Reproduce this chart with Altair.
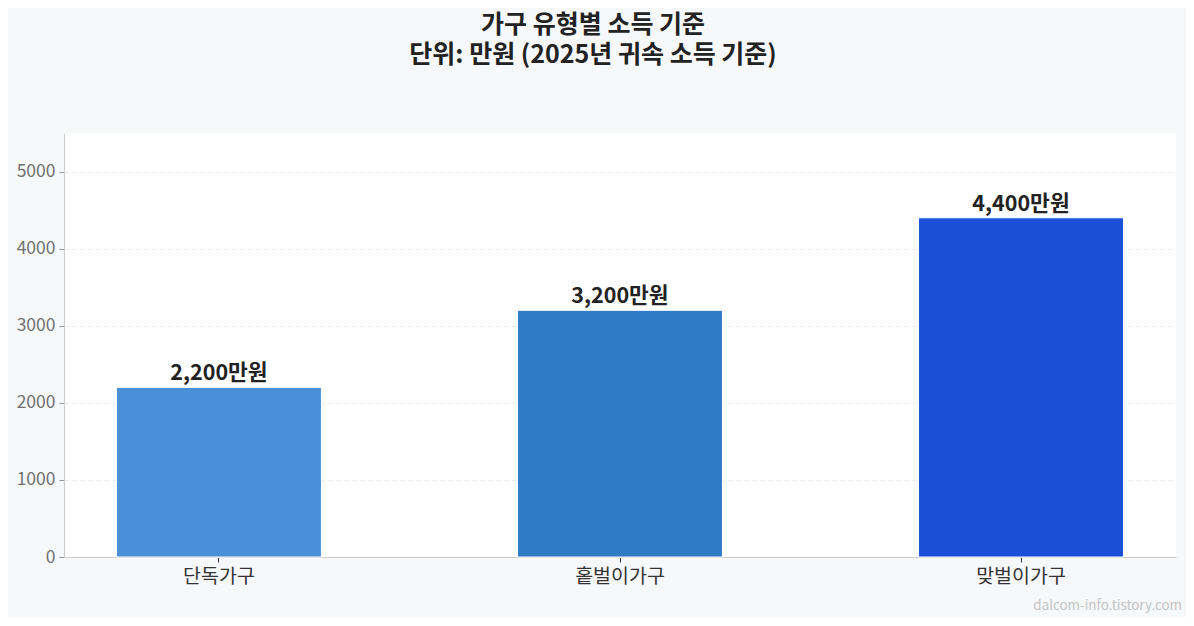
import altair as alt
import pandas as pd

categories = ["단독가구", "홑벌이가구", "맞벌이가구"]
values = [2200, 3200, 4400]
colors = ["#4A90D9", "#2F7BC6", "#1C4FD7"]
y_ticks = [0, 1000, 2000, 3000, 4000, 5000]

df = pd.DataFrame({
    "cat": categories,
    "val": values,
    "color": colors,
    "label": [f"{v:,}만원" for v in values],
})

FONT = "Noto Sans CJK KR"

x_enc = alt.X(
    "cat:N", sort=categories, title=None,
    scale=alt.Scale(paddingInner=0.489, paddingOuter=0.131),
    axis=alt.Axis(labelAngle=0, labelFontSize=19.5, labelColor="#333333", labelFont=FONT,
                  tickColor="#333333", tickSize=5, labelPadding=5,
                  domainColor="#cccccc", grid=False),
)
y_enc = alt.Y(
    "val:Q", title=None,
    scale=alt.Scale(domain=[0, 5500], nice=False),
    axis=alt.Axis(values=y_ticks, format="d", labelFontSize=17.5, labelColor="#707070", labelFont=FONT,
                  tickColor="#999999", tickSize=5, labelPadding=4,
                  domainColor="#cccccc", grid=True, gridColor="#e6e9ee", gridDash=[4, 4],
                  gridWidth=1),
)

bars = alt.Chart(df).mark_bar(stroke="white", strokeWidth=1).encode(
    x=x_enc, y=y_enc, color=alt.Color("color:N", scale=None)
)

labels = alt.Chart(df).mark_text(
    baseline="bottom", dy=-2, fontSize=21.5, fontWeight="bold", color="#222222", font=FONT
).encode(x=alt.X("cat:N", sort=categories), y="val:Q", text="label:N")

watermark = alt.Chart(pd.DataFrame({"t": ["dalcom-info.tistory.com"]})).mark_text(
    align="right", baseline="middle", fontSize=13.4, color="#c4c4c4", font=FONT
).encode(x=alt.value(1118), y=alt.value(473), text="t:N")

chart = alt.layer(bars, labels, watermark).properties(
    width=1112, height=424,
    background="#F7F8FA",
    padding={"left": 56, "top": 125, "right": 10, "bottom": 60},
    autosize=alt.AutoSizeParams(type="none"),
    title=alt.TitleParams(
        text=["가구 유형별 소득 기준", "단위: 만원 (2025년 귀속 소득 기준)"],
        fontSize=25, fontWeight="bold", color="#222222", font=FONT,
        anchor="middle", frame="bounds", offset=65, lineHeight=30, dx=-6,
    ),
).configure_view(stroke=None, fill="white").configure_axisY(domain=True).configure_axisX(domain=True)

chart.save("out.html", embed_options={"renderer": "svg", "actions": False})
